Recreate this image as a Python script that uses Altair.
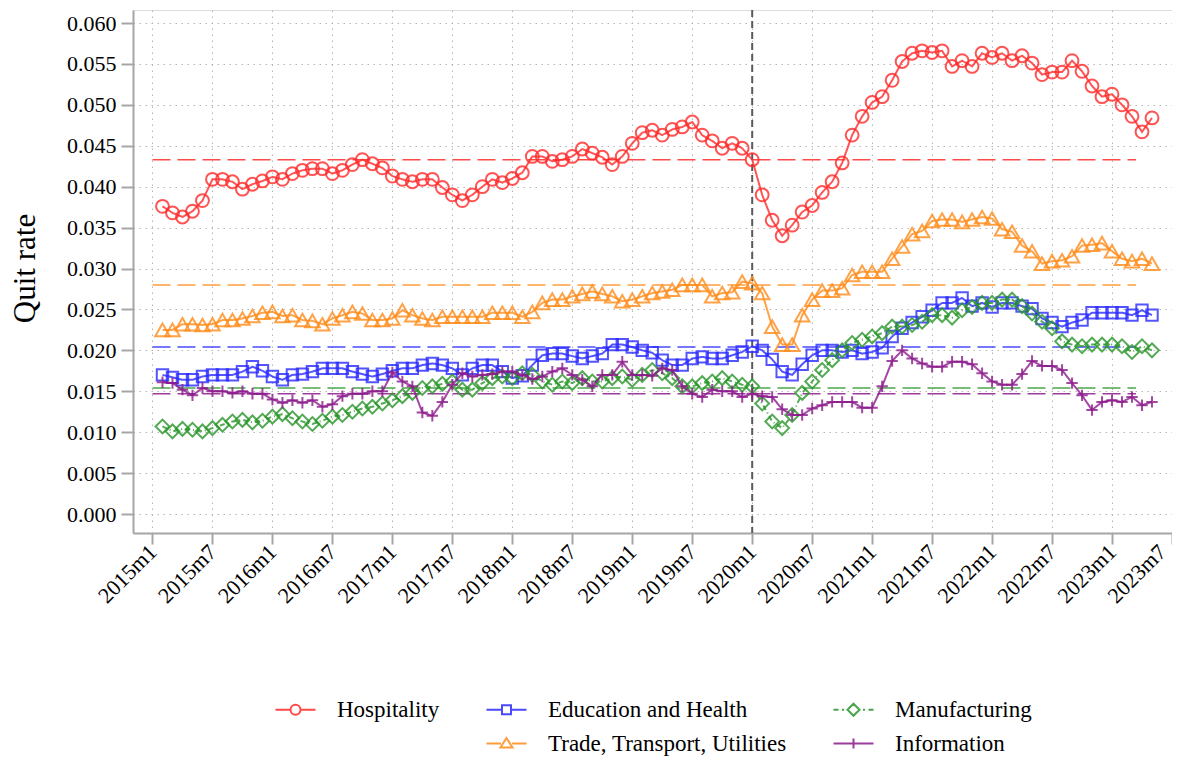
import altair as alt
import pandas as pd

# month index: 0 = 2015m1
months = list(range(1, 101))

hospitality = [0.0376, 0.0368, 0.0363, 0.0370, 0.0383, 0.0409, 0.0409, 0.0406, 0.0397, 0.0403,
               0.0407, 0.0412, 0.0409, 0.0416, 0.0420, 0.0422, 0.0422, 0.0416, 0.0420, 0.0427,
               0.0433, 0.0428, 0.0423, 0.0413, 0.0409, 0.0406, 0.0409, 0.0409, 0.0399, 0.0390,
               0.0383, 0.0390, 0.0400, 0.0409, 0.0405, 0.0410, 0.0417, 0.0437, 0.0437, 0.0431,
               0.0433, 0.0437, 0.0446, 0.0441, 0.0436, 0.0427, 0.0437, 0.0453, 0.0466, 0.0469,
               0.0463, 0.0470, 0.0473, 0.0479, 0.0463, 0.0456, 0.0447, 0.0453, 0.0447, 0.0433,
               0.0390, 0.0359, 0.0340, 0.0353, 0.0369, 0.0377, 0.0393, 0.0406, 0.0429, 0.0463,
               0.0486, 0.0503, 0.0510, 0.0530, 0.0553, 0.0563, 0.0566, 0.0564, 0.0566, 0.0547,
               0.0554, 0.0547, 0.0563, 0.0558, 0.0563, 0.0554, 0.0560, 0.0551, 0.0537, 0.0540,
               0.0540, 0.0554, 0.0541, 0.0523, 0.0510, 0.0513, 0.0500, 0.0486, 0.0467, 0.0484]

trade = [0.0225, 0.0225, 0.0232, 0.0232, 0.0231, 0.0232, 0.0237, 0.0237, 0.0239, 0.0242,
         0.0246, 0.0247, 0.0242, 0.0243, 0.0237, 0.0236, 0.0232, 0.0239, 0.0243, 0.0247,
         0.0245, 0.0237, 0.0237, 0.0239, 0.0249, 0.0243, 0.0239, 0.0237, 0.0241, 0.0241,
         0.0241, 0.0241, 0.0241, 0.0246, 0.0246, 0.0246, 0.0241, 0.0247, 0.0258, 0.0262,
         0.0262, 0.0266, 0.0269, 0.0272, 0.0269, 0.0266, 0.0260, 0.0262, 0.0266, 0.0270,
         0.0272, 0.0274, 0.0280, 0.0280, 0.0280, 0.0266, 0.0270, 0.0271, 0.0284, 0.0282,
         0.0270, 0.0229, 0.0207, 0.0207, 0.0243, 0.0262, 0.0273, 0.0273, 0.0276, 0.0292,
         0.0296, 0.0296, 0.0296, 0.0312, 0.0327, 0.0342, 0.0346, 0.0358, 0.0360, 0.0360,
         0.0357, 0.0360, 0.0363, 0.0361, 0.0348, 0.0345, 0.0328, 0.0321, 0.0306, 0.0309,
         0.0310, 0.0315, 0.0328, 0.0329, 0.0331, 0.0321, 0.0312, 0.0309, 0.0312, 0.0306]

education = [0.0170, 0.0167, 0.0164, 0.0164, 0.0168, 0.0170, 0.0170, 0.0170, 0.0174, 0.0180,
             0.0175, 0.0168, 0.0164, 0.0170, 0.0171, 0.0174, 0.0178, 0.0178, 0.0178, 0.0174,
             0.0171, 0.0168, 0.0171, 0.0175, 0.0178, 0.0178, 0.0182, 0.0184, 0.0182, 0.0178,
             0.0170, 0.0178, 0.0182, 0.0182, 0.0174, 0.0166, 0.0169, 0.0182, 0.0194, 0.0196,
             0.0196, 0.0193, 0.0190, 0.0193, 0.0196, 0.0207, 0.0207, 0.0204, 0.0200, 0.0197,
             0.0188, 0.0182, 0.0182, 0.0190, 0.0192, 0.0190, 0.0190, 0.0194, 0.0198, 0.0205,
             0.0200, 0.0189, 0.0174, 0.0170, 0.0183, 0.0194, 0.0200, 0.0200, 0.0198, 0.0200,
             0.0196, 0.0198, 0.0203, 0.0217, 0.0227, 0.0234, 0.0241, 0.0249, 0.0258, 0.0258,
             0.0264, 0.0254, 0.0258, 0.0253, 0.0258, 0.0258, 0.0254, 0.0251, 0.0239, 0.0234,
             0.0229, 0.0234, 0.0237, 0.0246, 0.0246, 0.0246, 0.0246, 0.0243, 0.0249, 0.0243]

manufacturing = [0.0107, 0.0101, 0.0104, 0.0103, 0.0101, 0.0105, 0.0109, 0.0113, 0.0115, 0.0112,
                 0.0114, 0.0119, 0.0122, 0.0117, 0.0113, 0.0110, 0.0114, 0.0119, 0.0121, 0.0125,
                 0.0129, 0.0131, 0.0135, 0.0139, 0.0144, 0.0148, 0.0154, 0.0156, 0.0159, 0.0162,
                 0.0152, 0.0152, 0.0160, 0.0166, 0.0168, 0.0166, 0.0172, 0.0170, 0.0162, 0.0158,
                 0.0162, 0.0160, 0.0166, 0.0162, 0.0162, 0.0166, 0.0168, 0.0164, 0.0170, 0.0176,
                 0.0172, 0.0166, 0.0156, 0.0156, 0.0160, 0.0162, 0.0166, 0.0162, 0.0158, 0.0156,
                 0.0135, 0.0113, 0.0105, 0.0121, 0.0148, 0.0162, 0.0176, 0.0188, 0.0200, 0.0209,
                 0.0213, 0.0217, 0.0221, 0.0229, 0.0229, 0.0231, 0.0235, 0.0243, 0.0243, 0.0240,
                 0.0249, 0.0253, 0.0258, 0.0258, 0.0262, 0.0262, 0.0254, 0.0245, 0.0235, 0.0227,
                 0.0211, 0.0207, 0.0205, 0.0207, 0.0207, 0.0207, 0.0205, 0.0198, 0.0205, 0.0200]

information = [0.0161, 0.0160, 0.0152, 0.0145, 0.0154, 0.0150, 0.0150, 0.0148, 0.0150, 0.0147,
               0.0147, 0.0140, 0.0136, 0.0139, 0.0136, 0.0139, 0.0131, 0.0134, 0.0144, 0.0147,
               0.0147, 0.0150, 0.0150, 0.0173, 0.0162, 0.0156, 0.0124, 0.0120, 0.0137, 0.0158,
               0.0172, 0.0168, 0.0170, 0.0171, 0.0174, 0.0174, 0.0170, 0.0165, 0.0168, 0.0174,
               0.0178, 0.0170, 0.0164, 0.0156, 0.0170, 0.0170, 0.0186, 0.0170, 0.0170, 0.0169,
               0.0178, 0.0176, 0.0156, 0.0147, 0.0143, 0.0152, 0.0150, 0.0150, 0.0143, 0.0147,
               0.0144, 0.0143, 0.0128, 0.0121, 0.0121, 0.0129, 0.0133, 0.0137, 0.0137, 0.0137,
               0.0130, 0.0130, 0.0156, 0.0187, 0.0200, 0.0190, 0.0184, 0.0180, 0.0180, 0.0186,
               0.0186, 0.0183, 0.0172, 0.0162, 0.0158, 0.0158, 0.0171, 0.0187, 0.0181, 0.0181,
               0.0176, 0.0160, 0.0145, 0.0127, 0.0137, 0.0139, 0.0137, 0.0143, 0.0133, 0.0137]

series_names = ["Hospitality", "Trade, Transport, Utilities", "Education and Health",
                "Manufacturing", "Information"]
series_values = [hospitality, trade, education, manufacturing, information]
series_means = [0.0433, 0.0280, 0.0204, 0.0154, 0.0147]
mean_start = 0
mean_end = 98.4
break_month = [60]  # 2020m1

x_tick_values = list(range(0, 103, 6))
y_tick_values = [round(i * 0.005, 3) for i in range(13)]

legend_order = ["Hospitality", "Education and Health", "Manufacturing", " ",
                "Trade, Transport, Utilities", "Information"]

colors = {
    "Hospitality": "#ff2a2a",
    "Trade, Transport, Utilities": "#ff8c1a",
    "Education and Health": "#2a2aff",
    "Manufacturing": "#2a962a",
    "Information": "#8c1a8c",
    " ": "transparent",
}
marker_shapes = {
    "Hospitality": "circle",
    "Trade, Transport, Utilities": "triangle-up",
    "Education and Health": "square",
    "Manufacturing": "diamond",
    "Information": "M-1,0H1M0,-1V1",
}
marker_sizes = {
    "Hospitality": 165,
    "Trade, Transport, Utilities": 210,
    "Education and Health": 130,
    "Manufacturing": 190,
    "Information": 130,
}
line_dash = {
    "Hospitality": [1, 0],
    "Trade, Transport, Utilities": [1, 0],
    "Education and Health": [1, 0],
    "Manufacturing": [5, 3, 1, 3],
    "Information": [1, 0],
}
legend_paths = {
    "Hospitality": "M-4,0H-1M1,0H4M1,0A1,1,0,1,1,-1,0A1,1,0,1,1,1,0",
    "Education and Health": "M-4,0H-0.9M0.9,0H4M-0.9,-0.9H0.9V0.9H-0.9Z",
    "Manufacturing": "M-4,0H-3M-2.3,0H-1.9M-1.2,0L0,-1.2L1.2,0L0,1.2ZM1.9,0H2.3M3,0H4",
    " ": "M0,0",
    "Trade, Transport, Utilities": "M-4,0H-1.1M1.1,0H4M0,-1.1L-1.2,0.8H1.2Z",
    "Information": "M-4,0H4M0,-1V1",
}

FONT = "Liberation Serif"
AXIS_GRAY = "#a6a6a6"

x_enc = alt.X(
    "month:Q",
    scale=alt.Scale(domain=[-1.95, 102.001], nice=False, zero=False),
    axis=alt.Axis(
        values=x_tick_values,
        labelExpr="toString(2015 + floor(datum.value / 12)) + 'm' + toString(datum.value % 12 + 1)",
        labelAngle=-45, labelAlign="right", labelBaseline="middle",
        labelPadding=4, labelFlush=False, labelOverlap=False, labelBound=False,
        labelOffset={"condition": {"test": "datum.value >= 102", "value": -10}, "value": 0},
        grid=True, gridDash=[1.5, 4.5], gridColor="#b5b5b5", gridWidth=1,
        tickSize=11, tickWidth=2, tickColor=AXIS_GRAY,
        domainColor=AXIS_GRAY, domainWidth=2,
        labelFont=FONT, labelFontSize=22, labelColor="black",
        title=None,
    ),
)
y_enc = alt.Y(
    "value:Q",
    scale=alt.Scale(domain=[-0.00232, 0.06159], nice=False, zero=False),
    axis=alt.Axis(
        values=y_tick_values, format=".3f",
        grid=True, gridDash=[1.5, 4.5], gridColor="#b5b5b5", gridWidth=1,
        tickSize=12, tickWidth=2, tickColor=AXIS_GRAY,
        domainColor=AXIS_GRAY, domainWidth=2,
        labelFont=FONT, labelFontSize=22, labelColor="black", labelPadding=5,
        title="Quit rate", titleFont=FONT, titleFontSize=31, titleFontWeight="normal",
        titleColor="black", titleX=-108, titleY=258, titleAngle=270,
        titleAlign="center", titleBaseline="middle",
    ),
)

layers = []
# dashed mean lines
for name, mval in zip(series_names, series_means):
    mdf = pd.DataFrame({"month": [mean_start], "month_end": [mean_end], "value": [mval]})
    layers.append(
        alt.Chart(mdf).mark_rule(color=colors[name], strokeDash=[18, 7], strokeWidth=1.5, opacity=0.85)
        .encode(x=x_enc, x2="month_end:Q", y=y_enc)
    )

# vertical break line
layers.append(
    alt.Chart(pd.DataFrame({"month": break_month})).mark_rule(
        color="#5a5a5a", strokeDash=[7, 4], strokeWidth=2
    ).encode(x=x_enc)
)

for name, vals in zip(series_names, series_values):
    sdf = pd.DataFrame({"month": months, "value": vals})
    layers.append(
        alt.Chart(sdf).mark_line(color=colors[name], strokeWidth=2, opacity=0.8,
                                 strokeDash=line_dash[name])
        .encode(x=x_enc, y=y_enc)
    )
    layers.append(
        alt.Chart(sdf).mark_point(shape=marker_shapes[name], size=marker_sizes[name], filled=False,
                                  color=colors[name], strokeWidth=2, opacity=0.8)
        .encode(x=x_enc, y=y_enc)
    )

# legend-only layer (no marks drawn)
legend_df = pd.DataFrame({"series": legend_order})
legend_def = alt.Legend(
    orient="none", legendX=151, legendY=688, direction="horizontal", columns=3,
    title=None, labelFont=FONT, labelFontSize=23, labelColor="black", labelLimit=500,
    symbolSize=100, symbolStrokeWidth=2, labelOffset=30, columnPadding=42, rowPadding=10,
    padding=0, gridAlign="each",
)
legend_layer = alt.Chart(legend_df).transform_filter("false").mark_point(
    filled=False, strokeWidth=2, opacity=0.85
).encode(
    color=alt.Color("series:N", scale=alt.Scale(domain=legend_order,
                                                range=[colors[s] for s in legend_order]),
                    legend=legend_def),
    shape=alt.Shape("series:N", scale=alt.Scale(domain=legend_order,
                                                range=[legend_paths[s] for s in legend_order]),
                    legend=legend_def),
)
layers.append(legend_layer)

chart = alt.layer(*layers).properties(
    width=1039, height=523,
    autosize=alt.AutoSizeParams(type="none"),
    padding={"left": 125, "top": 2, "right": 0, "bottom": 228},
).configure_view(stroke=None).configure(background="white", font=FONT)

chart.save("out.html", embed_options={"renderer": "svg", "actions": False})
